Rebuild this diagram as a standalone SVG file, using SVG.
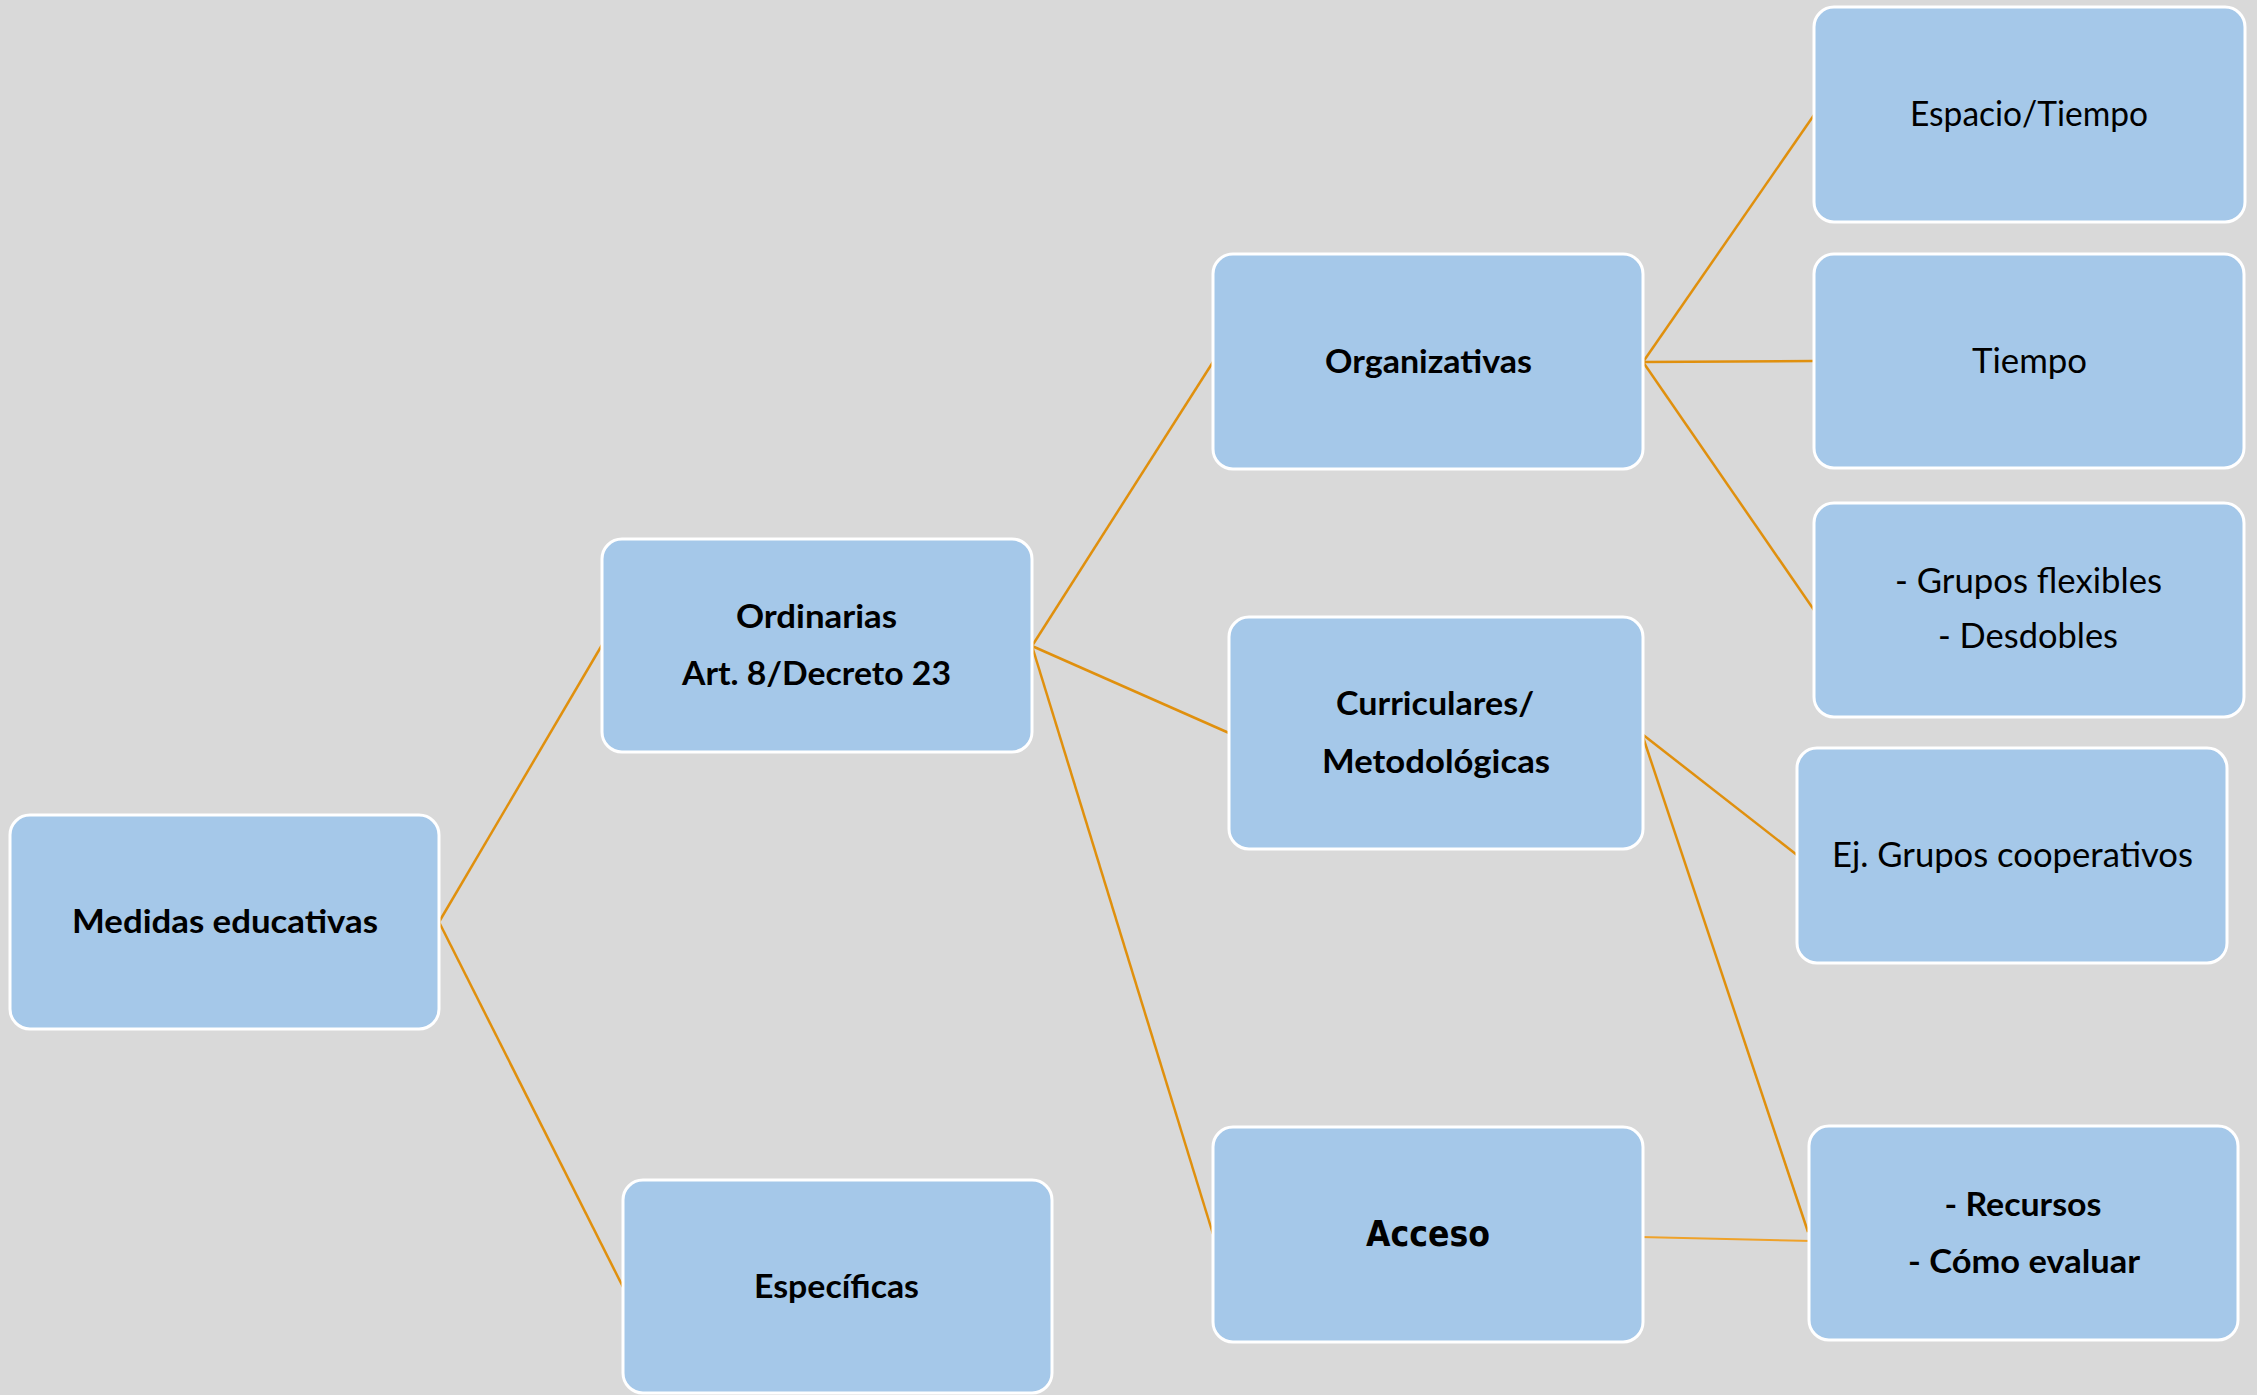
<svg xmlns="http://www.w3.org/2000/svg" width="2257" height="1395" viewBox="0 0 2257 1395">
<style>
.box{fill:#A5C8E9;stroke:#FFFFFF;stroke-width:3}
.b{font-family:Lato,"Open Sans","Liberation Sans",sans-serif;font-weight:700;font-size:32px;fill:#000;text-anchor:middle}
.r{font-family:Lato,"Open Sans","Liberation Sans",sans-serif;font-weight:400;font-size:34px;fill:#000;text-anchor:middle}
.a{font-family:"DejaVu Sans","Liberation Sans",sans-serif;font-weight:700;font-size:35px;fill:#000;text-anchor:middle}
.c{stroke:#E0900E;stroke-width:2.5;fill:none}
</style>
<rect width="2257" height="1395" fill="#D9D9D9"/>
<g id="connectors">
<line class="c" x1="439" y1="922" x2="602" y2="645"/>
<line class="c" x1="439" y1="922" x2="623" y2="1287"/>
<line class="c" x1="1032" y1="646" x2="1213" y2="362"/>
<line class="c" x1="1032" y1="646" x2="1229" y2="733"/>
<line class="c" x1="1032" y1="646" x2="1213" y2="1234"/>
<line class="c" x1="1643" y1="362" x2="1814" y2="115"/>
<line class="c" x1="1643" y1="362" x2="1814" y2="361"/>
<line class="c" x1="1643" y1="362" x2="1814" y2="610"/>
<line class="c" x1="1642" y1="734" x2="1797" y2="855"/>
<line class="c" x1="1642" y1="734" x2="1808" y2="1232"/>
<line class="c" x1="1640" y1="1237" x2="1812" y2="1241" style="stroke:#EFA22A;stroke-width:2"/>
</g>
<g id="medidas">
<rect class="box" x="10" y="815" width="429" height="214" rx="20"/>
<text class="b" x="225" y="933" textLength="306" lengthAdjust="spacingAndGlyphs">Medidas educativas</text>
</g>
<g id="ordinarias">
<rect class="box" x="602" y="539" width="430" height="213" rx="20"/>
<text class="b" x="816.5" y="628" textLength="161" lengthAdjust="spacingAndGlyphs">Ordinarias</text>
<text class="b" x="816.5" y="685" textLength="269" lengthAdjust="spacingAndGlyphs">Art. 8/Decreto 23</text>
</g>
<g id="especificas">
<rect class="box" x="623" y="1180" width="429" height="213" rx="20"/>
<text class="b" x="836.5" y="1298" textLength="165" lengthAdjust="spacingAndGlyphs">Específicas</text>
</g>
<g id="organizativas">
<rect class="box" x="1213" y="254" width="430" height="215" rx="20"/>
<text class="b" x="1428.5" y="373" textLength="207" lengthAdjust="spacingAndGlyphs">Organizativas</text>
</g>
<g id="curriculares">
<rect class="box" x="1229" y="617" width="414" height="232" rx="20"/>
<text class="b" x="1435" y="715" textLength="198" lengthAdjust="spacingAndGlyphs">Curriculares/</text>
<text class="b" x="1436" y="773" textLength="228" lengthAdjust="spacingAndGlyphs">Metodológicas</text>
</g>
<g id="acceso">
<rect class="box" x="1213" y="1127" width="430" height="215" rx="20"/>
<text class="a" x="1428" y="1246" textLength="124" lengthAdjust="spacingAndGlyphs">Acceso</text>
</g>
<g id="espacio">
<rect class="box" x="1814" y="7" width="431" height="215" rx="20"/>
<text class="r" x="2029" y="126" textLength="238" lengthAdjust="spacingAndGlyphs">Espacio/Tiempo</text>
</g>
<g id="tiempo">
<rect class="box" x="1814" y="254" width="430" height="214" rx="20"/>
<text class="r" x="2029.5" y="373" textLength="115" lengthAdjust="spacingAndGlyphs">Tiempo</text>
</g>
<g id="grupos">
<rect class="box" x="1814" y="503" width="430" height="214" rx="20"/>
<text class="r" x="2028.5" y="593" textLength="267" lengthAdjust="spacingAndGlyphs">- Grupos flexibles</text>
<text class="r" x="2028" y="648" textLength="180" lengthAdjust="spacingAndGlyphs">- Desdobles</text>
</g>
<g id="cooperativos">
<rect class="box" x="1797" y="748" width="430" height="215" rx="20"/>
<text class="r" x="2012.5" y="867" textLength="361" lengthAdjust="spacingAndGlyphs">Ej. Grupos cooperativos</text>
</g>
<g id="recursos">
<rect class="box" x="1809" y="1126" width="429" height="214" rx="20"/>
<text class="b" x="2023" y="1216" textLength="157" lengthAdjust="spacingAndGlyphs">- Recursos</text>
<text class="b" x="2024" y="1273" textLength="232" lengthAdjust="spacingAndGlyphs">- Cómo evaluar</text>
</g>
</svg>
